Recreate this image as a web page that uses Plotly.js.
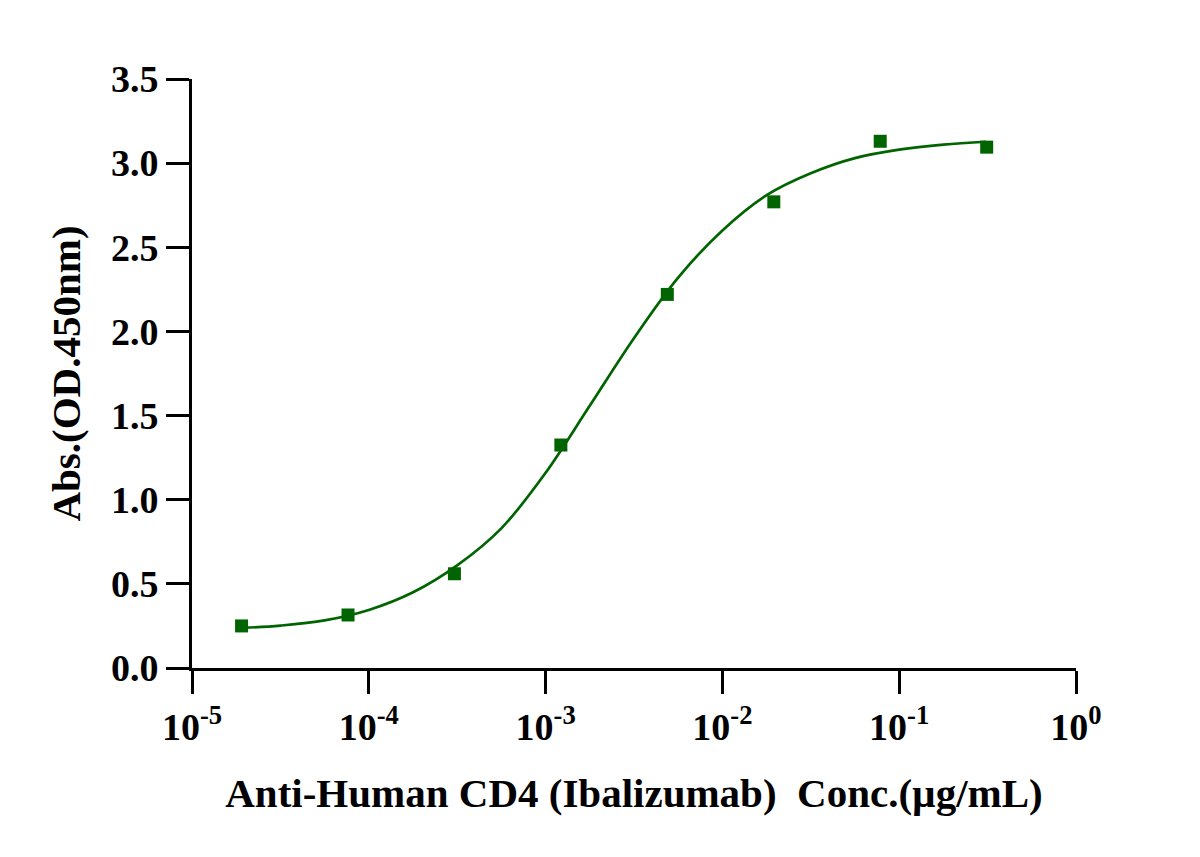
<!DOCTYPE html>
<html>
<head>
<meta charset="utf-8">
<script src="https://cdn.plot.ly/plotly-3.0.1.min.js"></script>
<style>
  html, body { margin: 0; padding: 0; background: #fff; }
  #plot { width: 1200px; height: 857px; }
</style>
</head>
<body>
<div id="plot"></div>
<script>
"use strict";

// measured points (µg/mL, OD450)
const conc = [1.907e-5, 7.63e-5, 3.05e-4, 1.22e-3, 4.88e-3, 1.953e-2, 7.81e-2, 0.3125];
const absorbance = [0.25, 0.315, 0.56, 1.325, 2.22, 2.77, 3.13, 3.095];

// fitted curve
const curveConc = [1.92e-5, 3.16e-5, 5.62e-5, 1e-4, 1.78e-4, 3.16e-4, 5.62e-4, 1e-3,
  1.78e-3, 3.16e-3, 5.62e-3, 1e-2, 1.78e-2, 3.16e-2, 5.62e-2, 0.1, 0.178, 0.31];
const curveAbs = [0.238, 0.252, 0.283, 0.345, 0.45, 0.61, 0.83, 1.16,
  1.56, 1.96, 2.32, 2.60, 2.81, 2.94, 3.03, 3.08, 3.11, 3.127];

const xTickVals = [1e-5, 1e-4, 1e-3, 1e-2, 1e-1, 1];
const xTickText = ["10<sup>-5</sup>", "10<sup>-4</sup>", "10<sup>-3</sup>",
  "10<sup>-2</sup>", "10<sup>-1</sup>", "10<sup>0</sup>"];
const yTickVals = [0, 0.5, 1, 1.5, 2, 2.5, 3, 3.5];

const green = "#006400";
const fontFamily = "'Liberation Serif', 'Times New Roman', serif";

const data = [
  {
    x: curveConc,
    y: curveAbs,
    type: "scatter",
    mode: "lines",
    line: { color: green, width: 2.7, shape: "spline", smoothing: 1 },
    hoverinfo: "skip",
  },
  {
    x: conc,
    y: absorbance,
    type: "scatter",
    mode: "markers",
    marker: { symbol: "square", size: 13, color: green },
  },
];

const axisCommon = {
  showline: true,
  linecolor: "#000",
  linewidth: 3,
  ticks: "outside",
  ticklen: 23,
  tickwidth: 3,
  tickcolor: "#000",
  showgrid: false,
  zeroline: false,
  tickfont: { family: fontFamily, size: 38, color: "#000", weight: "bold" },
};

const layout = {
  width: 1200,
  height: 857,
  margin: { l: 192, r: 124, t: 79, b: 189 },
  showlegend: false,
  plot_bgcolor: "#fff",
  paper_bgcolor: "#fff",
  font: { family: fontFamily, color: "#000" },
  xaxis: Object.assign({}, axisCommon, {
    type: "log",
    range: [-5, 0],
    tickvals: xTickVals,
    ticktext: xTickText,
    title: {
      text: "Anti-Human CD4 (Ibalizumab)  Conc.(µg/mL)",
      font: { family: fontFamily, size: 41, color: "#000", weight: "bold" },
      standoff: 32,
    },
  }),
  yaxis: Object.assign({}, axisCommon, {
    range: [0, 3.5],
    tickvals: yTickVals,
    tickformat: ".1f",
    title: {
      text: "Abs.(OD.450nm)",
      font: { family: fontFamily, size: 41, color: "#000", weight: "bold" },
      standoff: 18,
    },
  }),
};

Plotly.newPlot("plot", data, layout, { displayModeBar: false, staticPlot: true });
</script>
</body>
</html>
